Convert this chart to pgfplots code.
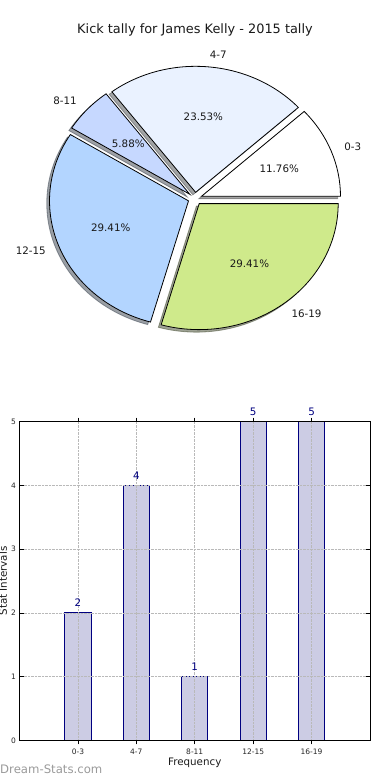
\documentclass[border=0pt]{standalone}
\usepackage{pgfplots}
\usepackage{pgfplotstable}
\pgfplotsset{compat=1.18}
\usepackage{fontspec}
\setmainfont{DejaVu Sans}
\definecolor{pc0}{HTML}{FFFFFF}
\definecolor{pc1}{HTML}{EAF2FF}
\definecolor{pc2}{HTML}{C6D8FF}
\definecolor{pc3}{HTML}{B3D5FF}
\definecolor{pc4}{HTML}{CFEA8B}
\definecolor{barfill}{HTML}{CCCCE4}
\definecolor{baredge}{HTML}{000080}
\definecolor{wm}{HTML}{9A9A9A}
\newcommand\lblfont{\fontsize{10.3bp}{12bp}\selectfont}
\newcommand\ttlfont{\fontsize{12.9bp}{15bp}\selectfont}
\newcommand\tkfont{\fontsize{7.5bp}{9bp}\selectfont}
\pgfplotstableread{
label count
0-3 2
4-7 4
8-11 1
12-15 5
16-19 5
}\kicks
\begin{document}
\begin{tikzpicture}
\path[use as bounding box] (0,0) rectangle (390bp,780bp);
\pgfplotstablegetrowsof{\kicks}
\pgfmathtruncatemacro\nr{\pgfplotsretval-1}
\gdef\total{0}
\foreach \i in {0,...,\nr}{%
  \pgfplotstablegetelem{\i}{count}\of\kicks
  \pgfmathsetmacro\t{\total+\pgfplotsretval}%
  \global\let\total\t
}
\gdef\cum{0}
\foreach \i in {0,...,\nr}{%
  \pgfplotstablegetelem{\i}{count}\of\kicks
  \pgfmathsetmacro\va{\pgfplotsretval}%
  \pgfmathsetmacro\a{\cum}%
  \pgfmathsetmacro\b{\cum+360*\va/\total}%
  \pgfmathsetmacro\m{(\a+\b)/2}%
  \pgfmathsetmacro\cx{0.05*cos(\m)}%
  \pgfmathsetmacro\cy{0.05*sin(\m)}%
  \pgfmathsetmacro\lx{\cx+1.1*cos(\m)}%
  \pgfmathsetmacro\ly{\cy+1.1*sin(\m)}%
  \pgfmathsetmacro\px{\cx+0.6*cos(\m)}%
  \pgfmathsetmacro\py{\cy+0.6*sin(\m)}%
  \pgfmathsetmacro\sx{\cx+cos(\a)}%
  \pgfmathsetmacro\sy{\cy+sin(\a)}%
  \pgfmathsetmacro\qcx{\cx-0.02}%
  \pgfmathsetmacro\qcy{\cy-0.02}%
  \pgfmathsetmacro\qsx{\sx-0.02}%
  \pgfmathsetmacro\qsy{\sy-0.02}%
  \pgfmathtruncatemacro\rgt{cos(\m)>0}%
  \pgfmathsetmacro\pct{100*\va/\total}%
  \pgfkeys{/pgf/number format/.cd,fixed,fixed zerofill,precision=2,assume math mode=true}%
  \pgfmathprintnumberto{\pct}{\pcttxt}%
  \expandafter\xdef\csname pa\i\endcsname{\a}%
  \expandafter\xdef\csname pb\i\endcsname{\b}%
  \expandafter\xdef\csname pcx\i\endcsname{\cx}%
  \expandafter\xdef\csname pcy\i\endcsname{\cy}%
  \expandafter\xdef\csname psx\i\endcsname{\sx}%
  \expandafter\xdef\csname psy\i\endcsname{\sy}%
  \expandafter\xdef\csname qcx\i\endcsname{\qcx}%
  \expandafter\xdef\csname qcy\i\endcsname{\qcy}%
  \expandafter\xdef\csname qsx\i\endcsname{\qsx}%
  \expandafter\xdef\csname qsy\i\endcsname{\qsy}%
  \expandafter\xdef\csname plx\i\endcsname{\lx}%
  \expandafter\xdef\csname ply\i\endcsname{\ly}%
  \expandafter\xdef\csname ppx\i\endcsname{\px}%
  \expandafter\xdef\csname ppy\i\endcsname{\py}%
  \expandafter\xdef\csname ppct\i\endcsname{\pcttxt}%
  \ifnum\rgt=1 \expandafter\xdef\csname panc\i\endcsname{west}\else\expandafter\xdef\csname panc\i\endcsname{east}\fi
  \pgfplotstablegetelem{\i}{label}\of\kicks
  \expandafter\xdef\csname plab\i\endcsname{\pgfplotsretval}%
  \global\let\cum\b
}
\node[font=\ttlfont, text=black!90] at (195bp,750bp) {Kick tally for James Kelly - 2015 tally};
% ---------- pie ----------
\begin{axis}[at={(0.4bp,405bp)}, anchor=south west, x=139bp, y=126bp,
  xmin=-1.4, xmax=1.4, ymin=-1.4, ymax=1.4, hide axis, clip=false]
\pgfplotsinvokeforeach{0,...,4}{%
  \edef\temp{\noexpand\filldraw[fill=pc#1!30!black, draw=pc#1!30!black, opacity=0.5, line width=0.8bp]
   (axis cs:\csname qcx#1\endcsname,\csname qcy#1\endcsname) -- (axis cs:\csname qsx#1\endcsname,\csname qsy#1\endcsname)
   arc[start angle=\csname pa#1\endcsname, end angle=\csname pb#1\endcsname, radius=1] -- cycle;}\temp
}
\pgfplotsinvokeforeach{0,...,4}{%
  \edef\temp{\noexpand\filldraw[fill=pc#1, draw=black, line width=0.8bp, line join=miter]
   (axis cs:\csname pcx#1\endcsname,\csname pcy#1\endcsname) -- (axis cs:\csname psx#1\endcsname,\csname psy#1\endcsname)
   arc[start angle=\csname pa#1\endcsname, end angle=\csname pb#1\endcsname, radius=1] -- cycle;}\temp
}
\pgfplotsinvokeforeach{0,...,4}{%
  \edef\temp{\noexpand\node[font=\noexpand\lblfont, anchor=\csname panc#1\endcsname, inner sep=0pt, text=black!90]
   at (axis cs:\csname plx#1\endcsname,\csname ply#1\endcsname) {\csname plab#1\endcsname};}\temp
  \edef\temp{\noexpand\node[font=\noexpand\lblfont, anchor=center, inner sep=0pt, text=black!90]
   at (axis cs:\csname ppx#1\endcsname,\csname ppy#1\endcsname) {\csname ppct#1\endcsname\noexpand\%};}\temp
}
\end{axis}
% ---------- bars ----------
\begin{axis}[at={(19.5bp,39.7bp)}, anchor=south west, scale only axis,
  width=350.5bp, height=318.6bp,
  xmin=-1, xmax=5, ymin=0, ymax=5,
  xtick={0,...,4}, xticklabels from table={\kicks}{label},
  ytick={0,...,5},
  /pgf/number format/assume math mode=true,
  ticklabel style={font=\tkfont, text=black!85},
  xticklabel style={yshift=-1bp},
  tick align=inside, major tick length=4bp,
  tick style={black, line width=0.6bp},
  grid=major, major grid style={densely dotted, gray!55, line width=0.7bp},
  axis on top, axis line style={line width=0.9bp},
  clip=false,
  xlabel={Frequency}, ylabel={Stat Intervals},
  label style={font=\lblfont, text=black!90},
  xlabel style={at={(axis description cs:0.5,0)}, anchor=center, yshift=-22.5bp},
  ylabel style={at={(axis description cs:0,0.5)}, anchor=center, yshift=16.5bp},
  ybar, bar width=0.45,
  nodes near coords,
  every node near coord/.append style={font=\lblfont, text=baredge, anchor=south, inner sep=0pt, yshift=5.5bp},
]
\addplot[fill=barfill, draw=baredge, line width=0.8bp] table[x expr=\coordindex, y=count] {\kicks};
\end{axis}
\node[font=\fontsize{11.7bp}{14bp}\selectfont, text=wm, anchor=west, inner sep=0pt] at (0bp,10.7bp) {Dream-Stats.com};
\end{tikzpicture}
\end{document}
